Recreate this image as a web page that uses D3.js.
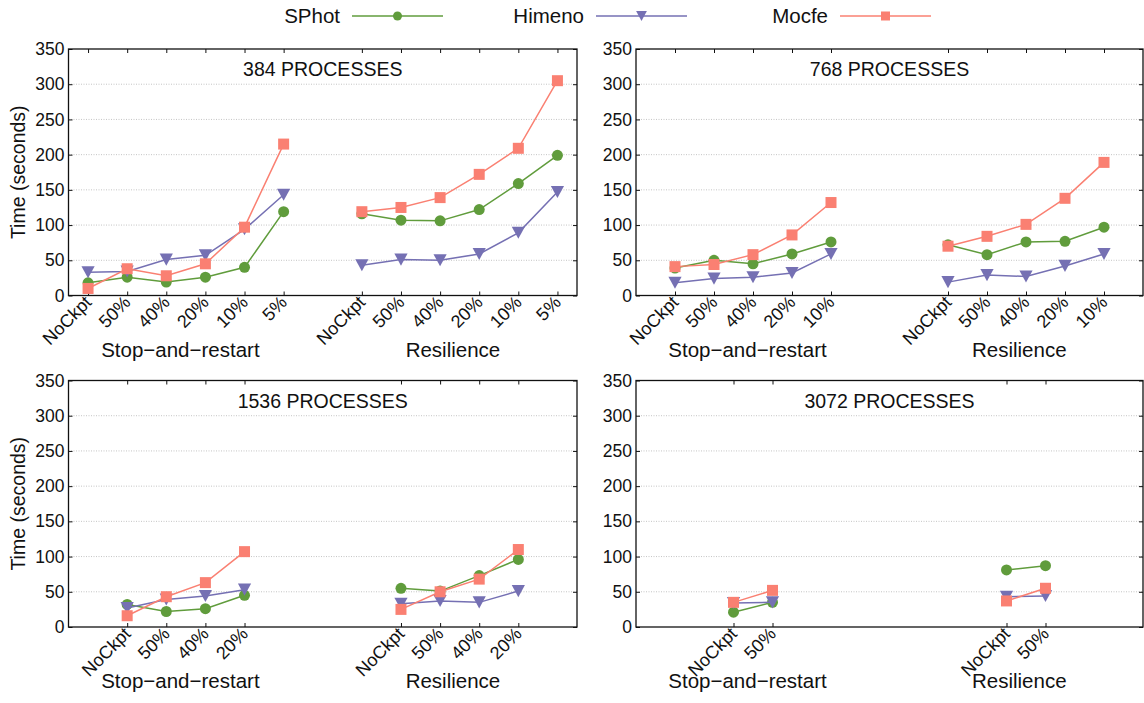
<!DOCTYPE html>
<html lang="en">
<head>
    <meta charset="UTF-8">
    <title>Checkpoint time per process count</title>
    <script src="https://d3js.org/d3.v7.min.js"></script>
    <style>
        body { margin: 0; background: #fff; }
        svg text { font-family: "Liberation Sans", Arial, Helvetica, sans-serif; fill: #111; }
    </style>
</head>
<body>
    <div id="chart"></div>

    <script>
        // checkpoint levels (x ticks), runs, modes and apps
        const levels = ["NoCkpt", "50%", "40%", "20%", "10%", "5%"];
        const procCounts = [384, 768, 1536, 3072];
        const levelsPerRun = [6, 5, 4, 2];
        const modes = ["Stop\u2212and\u2212restart", "Resilience"];
        const apps = ["SPhot", "Himeno", "Mocfe"];
        const yTicks = [0, 50, 100, 150, 200, 250, 300, 350];

        // time in seconds, one array per process count
        const sphotStop  = [[18, 26, 19, 26, 40, 119], [39, 50, 45, 59, 76], [32, 22, 26, 45], [21, 35]];
        const sphotRes   = [[116, 107, 106, 122, 159, 199], [72, 58, 76, 77, 97], [55, 51, 73, 96], [81, 87]];
        const himenoStop = [[33, 34, 51, 57, 94, 143], [18, 24, 26, 32, 59], [27, 39, 44, 53], [34, 35]];
        const himenoRes  = [[43, 51, 50, 59, 89, 147], [19, 29, 27, 42, 59], [33, 37, 35, 51], [43, 44]];
        const mocfeStop  = [[10, 38, 28, 45, 97, 215], [41, 44, 58, 86, 132], [16, 43, 63, 107], [35, 52]];
        const mocfeRes   = [[119, 125, 139, 172, 209, 305], [70, 84, 101, 138, 189], [25, 50, 68, 110], [37, 55]];

        const colors = ["#609c3c", "#7570b3", "#fa8072"];
        const markers = ["circle", "triangle", "square"];
        const stopData = [sphotStop, himenoStop, mocfeStop];
        const resData = [sphotRes, himenoRes, mocfeRes];

        const width = 1144, height = 703;
        const svg = d3.select("#chart").append("svg")
            .attr("width", width)
            .attr("height", height);

        // draw a marker of given kind centred on 0,0
        function drawMarker(g, kind, color, s) {
            if (kind === "circle") {
                g.append("circle").attr("r", s / 2).attr("fill", color);
            } else if (kind === "square") {
                g.append("rect").attr("x", -s / 2).attr("y", -s / 2)
                    .attr("width", s).attr("height", s).attr("fill", color);
            } else {
                const w = s * 1.2, h = s * 1.1;
                g.append("path")
                    .attr("d", `M${-w / 2},${-h / 2}L${w / 2},${-h / 2}L0,${h / 2}Z`)
                    .attr("fill", color);
            }
        }

        // legend
        const legendX = [340, 584, 828];
        apps.forEach((name, i) => {
            const g = svg.append("g").attr("transform", `translate(${legendX[i]},16)`);
            g.append("text").attr("x", 0).attr("y", 0).attr("dy", "0.36em")
                .attr("text-anchor", "end").style("font-size", "20.5px").text(name);
            g.append("line").attr("x1", 12).attr("x2", 103).attr("y1", 0).attr("y2", 0)
                .attr("stroke", colors[i]).attr("stroke-width", 1.4);
            const m = g.append("g").attr("transform", "translate(57.5,0)");
            drawMarker(m, markers[i], colors[i], 9);
        });

        // panel boxes
        const boxes = [
            { left: 68.5, top: 49, right: 577, bottom: 295.5 },
            { left: 636, top: 49, right: 1143, bottom: 295.5 },
            { left: 68.5, top: 380.5, right: 577, bottom: 627 },
            { left: 636, top: 380.5, right: 1143, bottom: 627 }
        ];

        procCounts.forEach((count, p) => {
            const b = boxes[p];
            const n = levelsPerRun[p];
            const c = (6 + n) / 2;
            const x = d3.scaleLinear().domain([c - 6.5, c + 6.5]).range([b.left, b.right]);
            const y = d3.scaleLinear().domain([0, 350]).range([b.bottom, b.top]);

            const pos = [];
            const labels = [];
            for (let i = 0; i < n; i++) { pos.push(i); labels.push(levels[i]); }
            for (let i = 0; i < n; i++) { pos.push(7 + i); labels.push(levels[i]); }

            const panel = svg.append("g");

            // dotted grid
            panel.selectAll(".grid").data(yTicks.slice(1, -1)).enter()
                .append("line")
                .attr("x1", b.left).attr("x2", b.right)
                .attr("y1", d => y(d)).attr("y2", d => y(d))
                .attr("stroke", "#c4c4c4").attr("stroke-width", 1)
                .attr("stroke-dasharray", "1,1.5");

            // axes with inward ticks
            const left = panel.append("g").attr("transform", `translate(${b.left},0)`)
                .call(d3.axisLeft(y).tickValues(yTicks).tickSize(-4).tickPadding(4));
            left.selectAll("text").style("font-size", "17.5px").attr("fill", "#111");
            panel.append("g").attr("transform", `translate(${b.right},0)`)
                .call(d3.axisRight(y).tickValues(yTicks).tickSize(-4).tickFormat(""));
            panel.append("g").attr("transform", `translate(0,${b.top})`)
                .call(d3.axisTop(x).tickValues(pos).tickSize(-4).tickFormat(""));
            const bottom = panel.append("g").attr("transform", `translate(0,${b.bottom})`)
                .call(d3.axisBottom(x).tickValues(pos).tickSize(-4).tickFormat((d, i) => labels[i]));
            bottom.selectAll("text")
                .attr("y", 0).attr("dy", null)
                .attr("transform", "translate(4,8) rotate(-45)")
                .attr("text-anchor", "end")
                .style("font-size", "18px");
            panel.selectAll(".domain").remove();
            panel.selectAll(".tick line").attr("stroke", "#111").attr("stroke-width", 1);

            panel.append("rect")
                .attr("x", b.left).attr("y", b.top)
                .attr("width", b.right - b.left).attr("height", b.bottom - b.top)
                .attr("fill", "none").attr("stroke", "#111").attr("stroke-width", 1.3);

            // title
            panel.append("text")
                .attr("x", (b.left + b.right) / 2).attr("y", b.top + 27)
                .attr("text-anchor", "middle").style("font-size", "19.5px")
                .text(`${count} PROCESSES`);

            // mode labels
            const w = b.right - b.left;
            [0.22, 0.756].forEach((f, m) => {
                panel.append("text")
                    .attr("x", b.left + f * w).attr("y", b.bottom + 61)
                    .attr("text-anchor", "middle").style("font-size", "20.5px")
                    .text(modes[m]);
            });

            // y label on the left panels
            if (p % 2 === 0) {
                panel.append("text")
                    .attr("transform", `translate(25,${(b.top + b.bottom) / 2}) rotate(-90)`)
                    .attr("text-anchor", "middle").style("font-size", "19.5px")
                    .text("Time (seconds)");
            }

            // series
            const line = d3.line().x(d => x(d.x)).y(d => y(d.v));
            apps.forEach((name, a) => {
                [stopData[a][p], resData[a][p]].forEach((vals, m) => {
                    const pts = vals.map((v, i) => ({ x: (m === 0 ? 0 : 7) + i, v: v }));
                    panel.append("path").datum(pts)
                        .attr("d", line).attr("fill", "none")
                        .attr("stroke", colors[a]).attr("stroke-width", 1.5);
                    pts.forEach(d => {
                        const g = panel.append("g").attr("transform", `translate(${x(d.x)},${y(d.v)})`);
                        drawMarker(g, markers[a], colors[a], 11);
                    });
                });
            });
        });
    </script>
</body>
</html>
